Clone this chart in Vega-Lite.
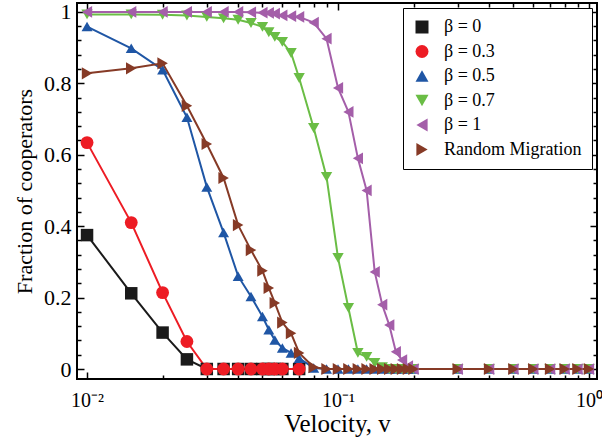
{
  "$schema": "https://vega.github.io/schema/vega-lite/v6.json",
  "width": 520,
  "height": 376,
  "autosize": {"type": "none"},
  "padding": {"left": 77, "top": 3, "right": 5, "bottom": 62},
  "background": "white",
  "config": {
    "view": {"stroke": "black", "strokeWidth": 2},
    "font": "Liberation Serif",
    "axis": {"domain": false, "grid": false, "tickColor": "black", "tickWidth": 1.5, "labelColor": "black", "titleColor": "black", "labelFont": "Liberation Serif", "titleFont": "Liberation Serif", "labelFontSize": 22, "titleFontSize": 23, "titleFontWeight": "normal", "labelFlush": false, "labelOverlap": false}
  },
  "datasets": {
    "d": [
      {"s": "β = 0", "v": 0.01, "f": 0.375}, {"s": "β = 0", "v": 0.015, "f": 0.212}, {"s": "β = 0", "v": 0.02, "f": 0.102}, {"s": "β = 0", "v": 0.025, "f": 0.027}, {"s": "β = 0", "v": 0.03, "f": 0}, {"s": "β = 0", "v": 0.035, "f": 0}, {"s": "β = 0", "v": 0.04, "f": 0}, {"s": "β = 0", "v": 0.045, "f": 0}, {"s": "β = 0", "v": 0.05, "f": 0}, {"s": "β = 0", "v": 0.053, "f": 0}, {"s": "β = 0", "v": 0.056, "f": 0}, {"s": "β = 0", "v": 0.06, "f": 0}, {"s": "β = 0", "v": 0.07, "f": 0},
      {"s": "β = 0.3", "v": 0.01, "f": 0.634}, {"s": "β = 0.3", "v": 0.015, "f": 0.41}, {"s": "β = 0.3", "v": 0.02, "f": 0.214}, {"s": "β = 0.3", "v": 0.025, "f": 0.077}, {"s": "β = 0.3", "v": 0.03, "f": 0}, {"s": "β = 0.3", "v": 0.035, "f": 0}, {"s": "β = 0.3", "v": 0.04, "f": 0}, {"s": "β = 0.3", "v": 0.045, "f": 0}, {"s": "β = 0.3", "v": 0.05, "f": 0}, {"s": "β = 0.3", "v": 0.053, "f": 0}, {"s": "β = 0.3", "v": 0.056, "f": 0}, {"s": "β = 0.3", "v": 0.06, "f": 0}, {"s": "β = 0.3", "v": 0.07, "f": 0},
      {"s": "β = 0.5", "v": 0.01, "f": 0.959}, {"s": "β = 0.5", "v": 0.015, "f": 0.898}, {"s": "β = 0.5", "v": 0.02, "f": 0.838}, {"s": "β = 0.5", "v": 0.025, "f": 0.705}, {"s": "β = 0.5", "v": 0.03, "f": 0.51}, {"s": "β = 0.5", "v": 0.035, "f": 0.382}, {"s": "β = 0.5", "v": 0.04, "f": 0.26}, {"s": "β = 0.5", "v": 0.045, "f": 0.203}, {"s": "β = 0.5", "v": 0.05, "f": 0.147}, {"s": "β = 0.5", "v": 0.053, "f": 0.11}, {"s": "β = 0.5", "v": 0.056, "f": 0.081}, {"s": "β = 0.5", "v": 0.06, "f": 0.059}, {"s": "β = 0.5", "v": 0.065, "f": 0.045}, {"s": "β = 0.5", "v": 0.07, "f": 0.03}, {"s": "β = 0.5", "v": 0.08, "f": 0.003}, {"s": "β = 0.5", "v": 0.09, "f": 0}, {"s": "β = 0.5", "v": 0.1, "f": 0}, {"s": "β = 0.5", "v": 0.11, "f": 0}, {"s": "β = 0.5", "v": 0.12, "f": 0}, {"s": "β = 0.5", "v": 0.13, "f": 0}, {"s": "β = 0.5", "v": 0.14, "f": 0}, {"s": "β = 0.5", "v": 0.15, "f": 0}, {"s": "β = 0.5", "v": 0.16, "f": 0}, {"s": "β = 0.5", "v": 0.17, "f": 0}, {"s": "β = 0.5", "v": 0.18, "f": 0}, {"s": "β = 0.5", "v": 0.19, "f": 0}, {"s": "β = 0.5", "v": 0.2, "f": 0}, {"s": "β = 0.5", "v": 0.3, "f": 0}, {"s": "β = 0.5", "v": 0.4, "f": 0}, {"s": "β = 0.5", "v": 0.5, "f": 0}, {"s": "β = 0.5", "v": 0.6, "f": 0}, {"s": "β = 0.5", "v": 0.7, "f": 0}, {"s": "β = 0.5", "v": 0.8, "f": 0}, {"s": "β = 0.5", "v": 0.9, "f": 0}, {"s": "β = 0.5", "v": 1, "f": 0},
      {"s": "β = 0.7", "v": 0.01, "f": 0.993}, {"s": "β = 0.7", "v": 0.015, "f": 0.993}, {"s": "β = 0.7", "v": 0.02, "f": 0.992}, {"s": "β = 0.7", "v": 0.025, "f": 0.99}, {"s": "β = 0.7", "v": 0.03, "f": 0.986}, {"s": "β = 0.7", "v": 0.035, "f": 0.982}, {"s": "β = 0.7", "v": 0.04, "f": 0.978}, {"s": "β = 0.7", "v": 0.045, "f": 0.969}, {"s": "β = 0.7", "v": 0.05, "f": 0.958}, {"s": "β = 0.7", "v": 0.053, "f": 0.943}, {"s": "β = 0.7", "v": 0.056, "f": 0.93}, {"s": "β = 0.7", "v": 0.06, "f": 0.916}, {"s": "β = 0.7", "v": 0.065, "f": 0.885}, {"s": "β = 0.7", "v": 0.07, "f": 0.815}, {"s": "β = 0.7", "v": 0.08, "f": 0.675}, {"s": "β = 0.7", "v": 0.09, "f": 0.538}, {"s": "β = 0.7", "v": 0.1, "f": 0.311}, {"s": "β = 0.7", "v": 0.11, "f": 0.171}, {"s": "β = 0.7", "v": 0.12, "f": 0.045}, {"s": "β = 0.7", "v": 0.13, "f": 0.034}, {"s": "β = 0.7", "v": 0.14, "f": 0.017}, {"s": "β = 0.7", "v": 0.15, "f": 0.005}, {"s": "β = 0.7", "v": 0.16, "f": 0}, {"s": "β = 0.7", "v": 0.17, "f": 0}, {"s": "β = 0.7", "v": 0.18, "f": 0}, {"s": "β = 0.7", "v": 0.19, "f": 0}, {"s": "β = 0.7", "v": 0.2, "f": 0}, {"s": "β = 0.7", "v": 0.3, "f": 0}, {"s": "β = 0.7", "v": 0.4, "f": 0}, {"s": "β = 0.7", "v": 0.5, "f": 0}, {"s": "β = 0.7", "v": 0.6, "f": 0}, {"s": "β = 0.7", "v": 0.7, "f": 0}, {"s": "β = 0.7", "v": 0.8, "f": 0}, {"s": "β = 0.7", "v": 0.9, "f": 0}, {"s": "β = 0.7", "v": 1, "f": 0},
      {"s": "β = 1", "v": 0.01, "f": 1}, {"s": "β = 1", "v": 0.015, "f": 1}, {"s": "β = 1", "v": 0.02, "f": 1}, {"s": "β = 1", "v": 0.025, "f": 1}, {"s": "β = 1", "v": 0.03, "f": 1}, {"s": "β = 1", "v": 0.035, "f": 1}, {"s": "β = 1", "v": 0.04, "f": 1}, {"s": "β = 1", "v": 0.045, "f": 0.999}, {"s": "β = 1", "v": 0.05, "f": 0.998}, {"s": "β = 1", "v": 0.053, "f": 0.997}, {"s": "β = 1", "v": 0.056, "f": 0.995}, {"s": "β = 1", "v": 0.06, "f": 0.99}, {"s": "β = 1", "v": 0.065, "f": 0.988}, {"s": "β = 1", "v": 0.07, "f": 0.986}, {"s": "β = 1", "v": 0.08, "f": 0.97}, {"s": "β = 1", "v": 0.09, "f": 0.925}, {"s": "β = 1", "v": 0.1, "f": 0.787}, {"s": "β = 1", "v": 0.11, "f": 0.72}, {"s": "β = 1", "v": 0.12, "f": 0.59}, {"s": "β = 1", "v": 0.13, "f": 0.5}, {"s": "β = 1", "v": 0.14, "f": 0.272}, {"s": "β = 1", "v": 0.15, "f": 0.18}, {"s": "β = 1", "v": 0.16, "f": 0.123}, {"s": "β = 1", "v": 0.17, "f": 0.048}, {"s": "β = 1", "v": 0.18, "f": 0.025}, {"s": "β = 1", "v": 0.19, "f": 0.008}, {"s": "β = 1", "v": 0.2, "f": 0}, {"s": "β = 1", "v": 0.3, "f": 0}, {"s": "β = 1", "v": 0.4, "f": 0}, {"s": "β = 1", "v": 0.5, "f": 0}, {"s": "β = 1", "v": 0.6, "f": 0}, {"s": "β = 1", "v": 0.7, "f": 0}, {"s": "β = 1", "v": 0.8, "f": 0}, {"s": "β = 1", "v": 0.9, "f": 0}, {"s": "β = 1", "v": 1, "f": 0},
      {"s": "Random Migration", "v": 0.01, "f": 0.828}, {"s": "Random Migration", "v": 0.015, "f": 0.842}, {"s": "Random Migration", "v": 0.02, "f": 0.856}, {"s": "Random Migration", "v": 0.025, "f": 0.737}, {"s": "Random Migration", "v": 0.03, "f": 0.63}, {"s": "Random Migration", "v": 0.035, "f": 0.535}, {"s": "Random Migration", "v": 0.04, "f": 0.403}, {"s": "Random Migration", "v": 0.045, "f": 0.333}, {"s": "Random Migration", "v": 0.05, "f": 0.275}, {"s": "Random Migration", "v": 0.053, "f": 0.227}, {"s": "Random Migration", "v": 0.056, "f": 0.185}, {"s": "Random Migration", "v": 0.06, "f": 0.13}, {"s": "Random Migration", "v": 0.065, "f": 0.1}, {"s": "Random Migration", "v": 0.07, "f": 0.045}, {"s": "Random Migration", "v": 0.08, "f": 0.005}, {"s": "Random Migration", "v": 0.09, "f": 0}, {"s": "Random Migration", "v": 0.1, "f": 0}, {"s": "Random Migration", "v": 0.11, "f": 0}, {"s": "Random Migration", "v": 0.12, "f": 0}, {"s": "Random Migration", "v": 0.13, "f": 0}, {"s": "Random Migration", "v": 0.14, "f": 0}, {"s": "Random Migration", "v": 0.15, "f": 0}, {"s": "Random Migration", "v": 0.16, "f": 0}, {"s": "Random Migration", "v": 0.17, "f": 0}, {"s": "Random Migration", "v": 0.18, "f": 0}, {"s": "Random Migration", "v": 0.19, "f": 0}, {"s": "Random Migration", "v": 0.2, "f": 0}, {"s": "Random Migration", "v": 0.3, "f": 0}, {"s": "Random Migration", "v": 0.4, "f": 0}, {"s": "Random Migration", "v": 0.5, "f": 0}, {"s": "Random Migration", "v": 0.6, "f": 0}, {"s": "Random Migration", "v": 0.7, "f": 0}, {"s": "Random Migration", "v": 0.8, "f": 0}, {"s": "Random Migration", "v": 0.9, "f": 0}, {"s": "Random Migration", "v": 1, "f": 0}
    ]
  },
  "data": {"name": "d"},
  "layer": [
    {
      "mark": {"type": "line", "strokeWidth": 2},
      "encoding": {
        "x": {"field": "v", "type": "quantitative", "scale": {"type": "log", "domain": [0.00912, 1.076], "nice": false},
          "axis": {"orient": "bottom", "title": "Velocity, v", "titlePadding": -2, "titleFontSize": 25, "labelFontSize": 20,
            "values": [0.01, 0.02, 0.03, 0.04, 0.05, 0.06, 0.07, 0.08, 0.09, 0.1, 0.2, 0.3, 0.4, 0.5, 0.6, 0.7, 0.8, 0.9, 1],
            "labelExpr": "datum.value == 0.01 ? '10⁻²' : datum.value == 0.1 ? '10⁻¹' : datum.value == 1 ? '10⁰' : ''",
            "tickSize": {"condition": {"test": "datum.value == 0.01 || datum.value == 0.1 || datum.value == 1", "value": -7}, "value": -4},
            "labelPadding": 18}},
        "y": {"field": "f", "type": "quantitative", "scale": {"domain": [-0.028, 1.025], "nice": false, "zero": false},
          "axis": {"orient": "left", "title": "Fraction of cooperators", "titlePadding": 7, "titleFontSize": 22,
            "values": [0, 0.04, 0.08, 0.12, 0.16, 0.2, 0.24, 0.28, 0.32, 0.36, 0.4, 0.44, 0.48, 0.52, 0.56, 0.6, 0.64, 0.68, 0.72, 0.76, 0.8, 0.84, 0.88, 0.92, 0.96, 1],
            "labelExpr": "round(datum.value * 100) % 20 == 0 ? toString(datum.value) : ''",
            "tickSize": {"condition": {"test": "round(datum.value * 100) % 20 == 0", "value": -7}, "value": -4},
            "labelPadding": 13}},
        "stroke": {"field": "s", "type": "nominal", "legend": null,
          "scale": {"domain": ["Random Migration", "β = 0", "β = 0.3", "β = 0.5", "β = 0.7", "β = 1"], "range": ["#863a26", "#1a1a1a", "#ed1c24", "#1f56a5", "#6abd45", "#a45ea9"]}}
      }
    },
    {
      "mark": {"type": "point", "filled": true, "opacity": 1},
      "encoding": {
        "x": {"field": "v", "type": "quantitative", "axis": null},
        "y": {"field": "f", "type": "quantitative", "axis": null},
        "size": {"field": "s", "type": "nominal", "legend": null, "scale": {"domain": ["β = 0.3", "β = 0", "Random Migration", "β = 1", "β = 0.7", "β = 0.5"], "range": [165, 120, 245, 245, 245, 245]}},
        "shape": {"field": "s", "type": "nominal",
          "scale": {"domain": ["β = 0", "β = 0.3", "β = 0.5", "β = 0.7", "β = 1", "Random Migration"], "range": ["square", "circle", "triangle-up", "triangle-down", "triangle-left", "triangle-right"]},
          "legend": {"title": null, "orient": "top-right", "offset": 5, "padding": 10, "rowPadding": 6.5, "labelFontSize": 18, "labelFont": "Liberation Serif", "labelColor": "black", "labelOffset": 13, "symbolSize": 169, "strokeColor": "black", "fillColor": "white"}},
        "color": {"field": "s", "type": "nominal",
          "scale": {"domain": ["β = 0", "β = 0.3", "β = 0.5", "β = 0.7", "β = 1", "Random Migration"], "range": ["#1a1a1a", "#ed1c24", "#1f56a5", "#6abd45", "#a45ea9", "#863a26"]},
          "legend": {"title": null, "orient": "top-right", "offset": 5, "padding": 10, "rowPadding": 6.5, "labelFontSize": 18, "labelFont": "Liberation Serif", "labelColor": "black", "labelOffset": 13, "symbolSize": 169, "strokeColor": "black", "fillColor": "white"}}
      }
    },
    {
      "mark": {"type": "point", "opacity": 0},
      "encoding": {
        "x": {"field": "v", "type": "quantitative",
          "axis": {"orient": "top", "title": null, "labels": false,
            "values": [0.01, 0.02, 0.03, 0.04, 0.05, 0.06, 0.07, 0.08, 0.09, 0.1, 0.2, 0.3, 0.4, 0.5, 0.6, 0.7, 0.8, 0.9, 1],
            "tickSize": {"condition": {"test": "datum.value == 0.01 || datum.value == 0.1 || datum.value == 1", "value": -7}, "value": -4}}},
        "y": {"field": "f", "type": "quantitative",
          "axis": {"orient": "right", "title": null, "labels": false,
            "values": [0, 0.04, 0.08, 0.12, 0.16, 0.2, 0.24, 0.28, 0.32, 0.36, 0.4, 0.44, 0.48, 0.52, 0.56, 0.6, 0.64, 0.68, 0.72, 0.76, 0.8, 0.84, 0.88, 0.92, 0.96, 1],
            "tickSize": {"condition": {"test": "round(datum.value * 100) % 20 == 0", "value": -7}, "value": -4}}}
      }
    }
  ],
  "resolve": {"axis": {"x": "independent", "y": "independent"}}
}
